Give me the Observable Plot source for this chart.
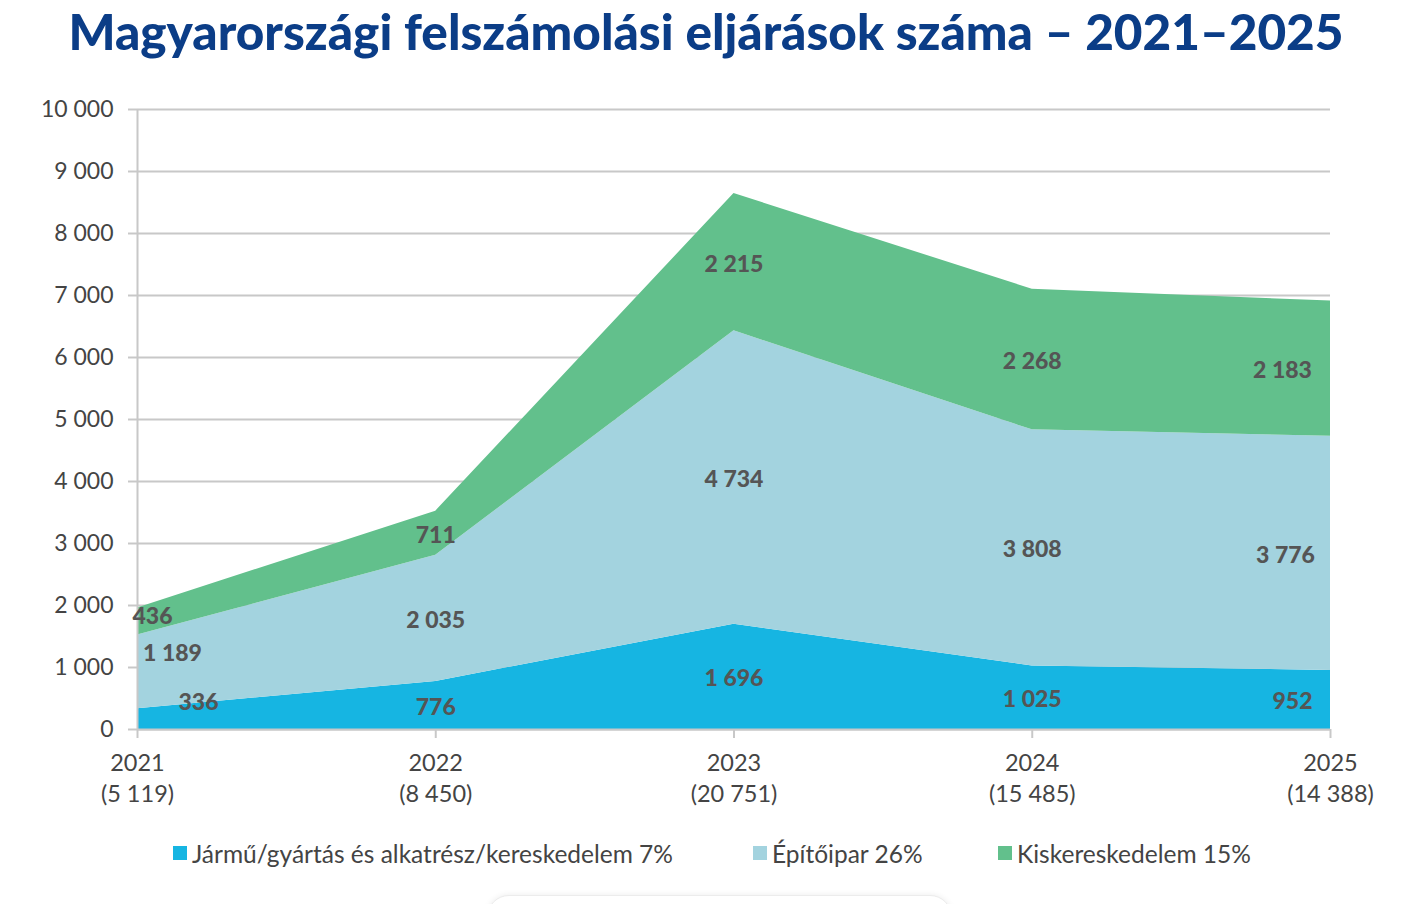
<!DOCTYPE html>
<html>
<head>
<meta charset="utf-8">
<script src="https://cdn.jsdelivr.net/npm/d3@7"></script>
<script src="https://cdn.jsdelivr.net/npm/@observablehq/plot@0.6"></script>
<style>
  html, body { margin: 0; padding: 0; background: #fff; }
  body { width: 1426px; height: 904px; position: relative; overflow: hidden; font-family: Lato, "Noto Sans", sans-serif; }
  #title { position: absolute; left: -7px; top: 1px; width: 1426px; text-align: center; font-size: 49.5px; font-weight: 900; color: #0b3d87; white-space: nowrap; }
  #chart { position: absolute; left: 0; top: 80px; }
  #legend { position: absolute; top: 838px; left: 0; width: 1426px; height: 30px; font-size: 24.5px; color: #444; }
  .item { position: absolute; top: 0; display: flex; align-items: center; white-space: nowrap; height: 30px; }
  .sw { width: 14px; height: 14px; margin-right: 5px; }
  #box { position: absolute; left: 487px; top: 895px; width: 463px; height: 60px; border-radius: 22px; border: 1px solid #ececec; box-shadow: 0 0 6px rgba(0,0,0,0.08); background: #fff; }
</style>
</head>
<body>
<div id="title">Magyarországi felszámolási eljárások száma – 2021–2025</div>
<div id="chart"></div>
<div id="legend"></div>
<div id="box"></div>
<script>
// ---- data ----
const years = [2021, 2022, 2023, 2024, 2025];
const totalLabels = ["5 119", "8 450", "20 751", "15 485", "14 388"];
const seriesNames = ["Jármű/gyártás és alkatrész/kereskedelem", "Építőipar", "Kiskereskedelem"];
const legendLabels = ["Jármű/gyártás és alkatrész/kereskedelem 7%", "Építőipar 26%", "Kiskereskedelem 15%"];
const jarmu = [336, 776, 1696, 1025, 952];
const epitoipar = [1189, 2035, 4734, 3808, 3776];
const kisker = [436, 711, 2215, 2268, 2183];
const colors = ["#16b5e2", "#a3d3df", "#62c08c"];
const yTicks = [0, 1000, 2000, 3000, 4000, 5000, 6000, 7000, 8000, 9000, 10000];

// ---- build table ----
const seriesValues = [jarmu, epitoipar, kisker];
const rows = [];
years.forEach((yr, i) => {
  let base = 0;
  seriesNames.forEach((s, k) => {
    const v = seriesValues[k][i];
    rows.push({year: yr, series: s, value: v, mid: base + v / 2});
    base += v;
  });
});

const fmt = d3.formatLocale({decimal: ",", thousands: " ", grouping: [3], currency: ["", ""]}).format(",d");

// label nudges (style only)
const nudge = {
  "2021|0": [61, -16], "2021|1": [35, -18], "2021|2": [15, -5],
  "2025|0": [-38, 2], "2025|1": [-45, 2], "2025|2": [-48, 2]
};

const labelMarks = rows.map((r) => {
  const k = seriesNames.indexOf(r.series);
  const [dx, dy] = nudge[r.year + "|" + k] || [0, 2];
  return Plot.text([r], {
    x: "year", y: "mid", text: d => fmt(d.value),
    dx, dy, fontSize: 23, fontWeight: 900, fill: "#555", fontFamily: "Lato, sans-serif"
  });
});

const chart = Plot.plot({
  width: 1426,
  height: 740,
  marginTop: 29,
  marginBottom: 91,
  marginLeft: 137,
  marginRight: 96,
  style: {fontFamily: "Lato, sans-serif", background: "#fff"},
  x: {domain: [2021, 2025], ticks: years},
  y: {domain: [0, 10000], ticks: yTicks},
  color: {domain: seriesNames, range: colors},
  marks: [
    Plot.gridY(yTicks, {stroke: "#c8c8c8", strokeOpacity: 1, strokeWidth: 2}),
    Plot.areaY(rows, Plot.stackY({x: "year", y: "value", fill: "series", order: seriesNames})),
    Plot.ruleY([0], {stroke: "#c8c8c8", strokeWidth: 2}),
    Plot.ruleX([2021], {stroke: "#c8c8c8", strokeWidth: 2}),
    Plot.axisY(yTicks, {
      tickSize: 9, tickPadding: 15, stroke: "#c8c8c8", strokeWidth: 2,
      fontSize: 23, fill: "#444", tickFormat: fmt, label: null
    }),
    Plot.axisX(years, {
      tickSize: 9, tickPadding: 10, stroke: "#c8c8c8", strokeWidth: 2,
      fontSize: 23.5, fill: "#444", lineHeight: 1.33, label: null,
      tickFormat: (d) => d + "\n(" + totalLabels[years.indexOf(d)] + ")"
    }),
    ...labelMarks
  ]
});
document.getElementById("chart").appendChild(chart);

// legend
const legend = document.getElementById("legend");
const lx = [173, 753, 998];
legendLabels.forEach((t, i) => {
  const it = document.createElement("div");
  it.className = "item";
  it.style.left = lx[i] + "px";
  const sw = document.createElement("div");
  sw.className = "sw";
  sw.style.background = colors[i];
  const tx = document.createElement("span");
  tx.textContent = t;
  it.appendChild(sw);
  it.appendChild(tx);
  legend.appendChild(it);
});
</script>
</body>
</html>
